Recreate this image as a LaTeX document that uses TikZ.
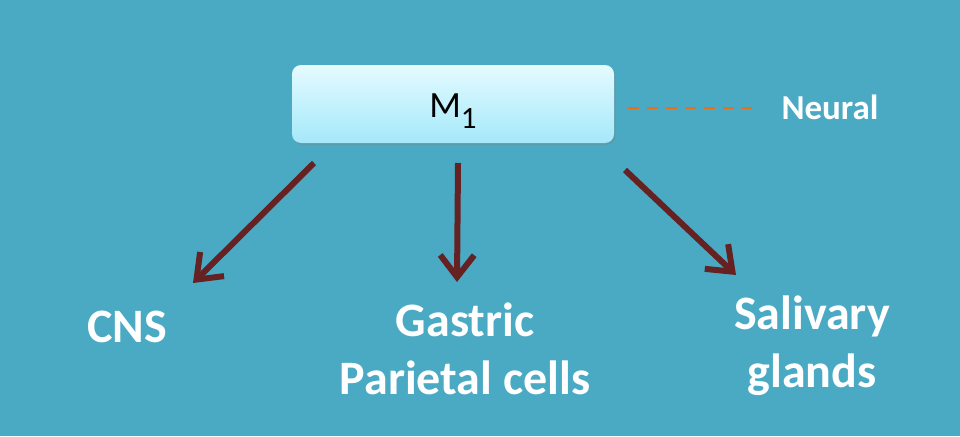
\documentclass[tikz,border=0pt]{standalone}
\usepackage{fontspec}
\setmainfont{Carlito}
\usetikzlibrary{arrows.meta,positioning,shadows}
\definecolor{slidebg}  {RGB}{ 74,170,196}
\definecolor{boxtop}   {RGB}{228,251,255}
\definecolor{boxbot}   {RGB}{165,232,250}
\definecolor{arrowred} {RGB}{102, 34, 34}
\definecolor{dashorange}{RGB}{236,110, 20}

\begin{document}
\begin{tikzpicture}[
    x=1pt, y=-1pt,
    receptor/.style={draw=none, rounded corners=9pt, minimum width=322pt, minimum height=78pt,
        top color=boxtop, bottom color=boxbot, drop shadow={shadow xshift=1.5pt, shadow yshift=-2pt, opacity=0.35},
        text height=26pt, text depth=0pt, font=\fontsize{37}{40}\selectfont},
    target/.style={text=white, align=center, font=\bfseries\fontsize{48}{58}\selectfont},
    arrow/.style={-{Straight Barb[length=22pt, width=34pt]}, line width=6pt, draw=arrowred}
]
    \fill[slidebg] (0,0) rectangle (960,436);
    \useasboundingbox (0,0) rectangle (960,436);

    \node[receptor] (m1) at (453,104) {M\raisebox{-0.3em}{\fontsize{31}{32}\selectfont 1}};
    \node[text=white, font=\bfseries\fontsize{35}{40}\selectfont] (neural) at (830,107) {Neural};
    \coordinate (d0) at (628,108);
    \draw[dashorange, line width=2.2pt, dash pattern=on 11pt off 8pt, shorten >=26pt] (d0) -- (neural.west |- d0);

    \node[target] (cns) at (127,327) {CNS};
    \node[target] (gastric) at (465,349) {Gastric\\Parietal cells};
    \node[target] (salivary) at (812,346) {Salivary\\glands};

    % arrow ends
    \coordinate (a1) at (314,163);
    \coordinate (a2) at (458,163);
    \coordinate (a3) at (625,170);
    \coordinate (b1) at (193,283);
    \coordinate (b2) at (457,282);
    \coordinate (b3) at (736,275);

    \draw[arrow] (a1) -- (b1);
    \draw[arrow] (a2) -- (b2);
    \draw[arrow] (a3) -- (b3);
\end{tikzpicture}
\end{document}
